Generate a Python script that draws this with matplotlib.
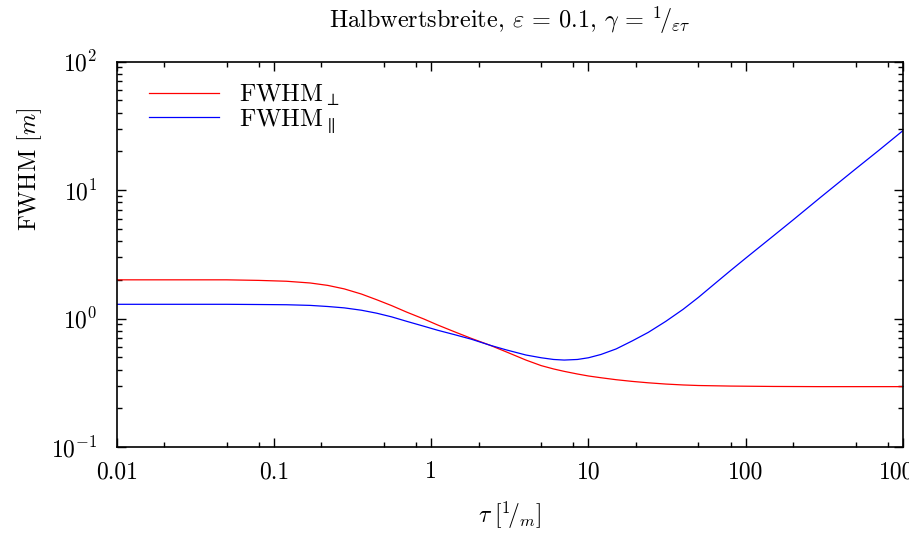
import numpy as np
import matplotlib
matplotlib.use("Agg")
import matplotlib.pyplot as plt
from matplotlib.ticker import FixedLocator, FixedFormatter, LogLocator, NullFormatter

plt.rcParams['font.family'] = 'serif'
plt.rcParams['font.serif'] = ['cmr10', 'DejaVu Serif']
plt.rcParams['mathtext.fontset'] = 'cm'
plt.rcParams['axes.formatter.use_mathtext'] = True

# values (tau in 1/m, FWHM in m)
tau_perp = [0.01, 0.03, 0.05, 0.08, 0.12, 0.17, 0.22, 0.28, 0.36, 0.45, 0.56, 0.7, 0.9,
            1.1, 1.4, 1.8, 2.36, 3.0, 4.0, 5.0, 6.0, 7.0, 8.5, 10, 12, 15, 19, 24, 31,
            40, 50, 80, 150, 300, 1000]
fwhm_perp = [2.0, 2.0, 2.0, 1.98, 1.95, 1.89, 1.81, 1.70, 1.55, 1.40, 1.26, 1.12, 0.99,
             0.89, 0.79, 0.70, 0.62, 0.55, 0.475, 0.43, 0.405, 0.388, 0.37, 0.357, 0.346,
             0.334, 0.324, 0.316, 0.309, 0.304, 0.301, 0.298, 0.296, 0.295, 0.295]

tau_par = [0.01, 0.03, 0.05, 0.08, 0.12, 0.17, 0.22, 0.28, 0.36, 0.45, 0.56, 0.7, 0.9,
           1.1, 1.4, 1.8, 2.36, 3.0, 4.0, 5.0, 6.0, 7.0, 8.5, 10, 12, 15, 19, 24, 31,
           40, 50, 63, 80, 100, 150, 200, 300, 500, 700, 1000]
fwhm_par = [1.29, 1.29, 1.29, 1.285, 1.28, 1.265, 1.24, 1.21, 1.16, 1.10, 1.03, 0.95, 0.87,
            0.81, 0.75, 0.69, 0.62, 0.57, 0.52, 0.495, 0.48, 0.475, 0.48, 0.495, 0.525,
            0.58, 0.67, 0.78, 0.95, 1.18, 1.46, 1.85, 2.36, 2.95, 4.4, 5.85, 8.8, 14.6,
            20.3, 29.0]

x_ticks = [0.01, 0.1, 1, 10, 100, 1000]
x_tick_labels = ["0.01", "0.1", "1", "10", "100", "1000"]

fig = plt.figure(figsize=(9.09, 5.34), dpi=100)
ax = fig.add_axes([0.1284, 0.1629, 0.865, 0.7219])

ax.plot(tau_perp, fwhm_perp, color='#ff0000', lw=0.9, label=r'FWHM$_\perp$')
ax.plot(tau_par, fwhm_par, color='#0000ff', lw=0.9, label=r'FWHM$_\parallel$')

ax.set_xscale('log')
ax.set_yscale('log')
ax.set_xlim(0.01, 1000)
ax.set_ylim(0.1, 100)

ax.xaxis.set_major_locator(FixedLocator(x_ticks))
ax.xaxis.set_major_formatter(FixedFormatter(x_tick_labels))
ax.xaxis.set_minor_locator(LogLocator(base=10, subs=(2, 5, 8)))
ax.xaxis.set_minor_formatter(NullFormatter())
ax.yaxis.set_minor_locator(LogLocator(base=10, subs=np.arange(2, 10)))
ax.yaxis.set_minor_formatter(NullFormatter())

ax.tick_params(which='both', direction='in', top=True, right=True, labelsize=17, width=1.0)
ax.tick_params(which='major', length=6.5)
ax.tick_params(axis='x', which='major', pad=10)
ax.tick_params(axis='y', which='major', pad=14)
ax.tick_params(which='minor', length=3.5)
for s in ax.spines.values():
    s.set_linewidth(1.2)

ax.set_xlabel(r'$\tau\;[{}^{1}\!/_{m}]$', fontsize=17, labelpad=12)
ax.set_ylabel(r'FWHM $[m]$', fontsize=17.5)
ax.yaxis.set_label_coords(-0.092, 0.72)

ax.text(0.5, 1.108, r'Halbwertsbreite, $\varepsilon$ = 0.1, $\gamma$ = ${}^{1}\!/_{\varepsilon\tau}$',
        transform=ax.transAxes, ha='center', va='center', fontsize=17.5)

ax.legend(loc='upper left', frameon=False, fontsize=18, handlelength=2.8,
          handletextpad=0.8, labelspacing=0.0, borderaxespad=0.9,
          bbox_to_anchor=(0.0, 1.03))

fig.savefig('out.png', dpi=100)
